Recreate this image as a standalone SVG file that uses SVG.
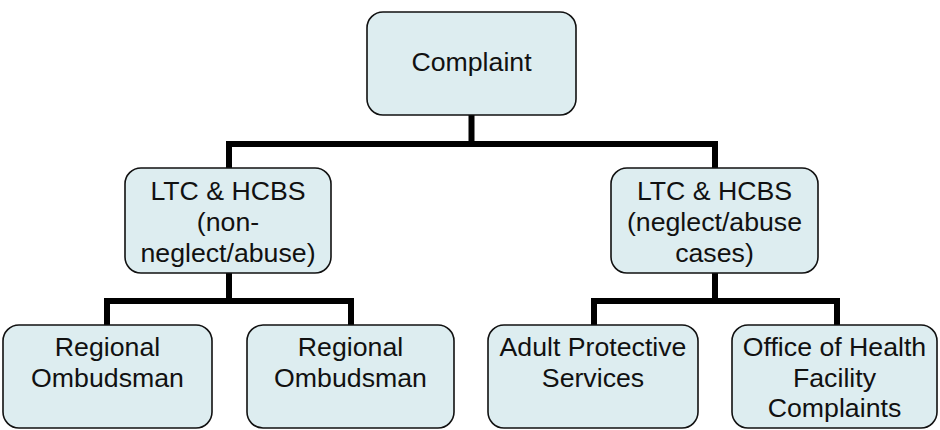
<svg xmlns="http://www.w3.org/2000/svg" width="940" height="430" viewBox="0 0 940 430">
<style>
.box{fill:#DDEDF0;stroke:#111;stroke-width:1.6}
.t{font-family:"Liberation Sans",Arial,sans-serif;font-size:26.7px;fill:#111;text-anchor:middle}
.c{fill:none;stroke:#000;stroke-width:6;stroke-linejoin:miter;stroke-linecap:butt}
</style>
<rect width="940" height="430" fill="#fff"/>
<g id="connectors">
<path class="c" d="M471.5 115V144M229 168V144H715V168"/>
<path class="c" d="M229 273V301M107 325V301H351V325"/>
<path class="c" d="M715 273V301M594 325V301H837V325"/>
</g>
<g id="complaint">
<rect class="box" x="367" y="12" width="209" height="103" rx="16"/>
<text class="t" x="471.5" y="71">Complaint</text>
</g>
<g id="ltc-non">
<rect class="box" x="125" y="168" width="206" height="105" rx="16"/>
<text class="t" x="228" y="200">LTC &amp; HCBS</text>
<text class="t" x="228" y="231">(non-</text>
<text class="t" x="228" y="262">neglect/abuse)</text>
</g>
<g id="ltc-abuse">
<rect class="box" x="611" y="168" width="207" height="105" rx="16"/>
<text class="t" x="714.5" y="200">LTC &amp; HCBS</text>
<text class="t" x="714.5" y="231">(neglect/abuse</text>
<text class="t" x="714.5" y="262">cases)</text>
</g>
<g id="ombudsman1">
<rect class="box" x="3" y="325" width="209" height="103" rx="16"/>
<text class="t" x="107.5" y="356">Regional</text>
<text class="t" x="107.5" y="387">Ombudsman</text>
</g>
<g id="ombudsman2">
<rect class="box" x="247" y="325" width="207" height="103" rx="16"/>
<text class="t" x="350.5" y="356">Regional</text>
<text class="t" x="350.5" y="387">Ombudsman</text>
</g>
<g id="aps">
<rect class="box" x="488" y="325" width="210" height="103" rx="16"/>
<text class="t" x="593" y="356">Adult Protective</text>
<text class="t" x="593" y="387">Services</text>
</g>
<g id="ohfc">
<rect class="box" x="732" y="325" width="205" height="103" rx="16"/>
<text class="t" x="834.5" y="356">Office of Health</text>
<text class="t" x="834.5" y="387">Facility</text>
<text class="t" x="834.5" y="417">Complaints</text>
</g>
</svg>
